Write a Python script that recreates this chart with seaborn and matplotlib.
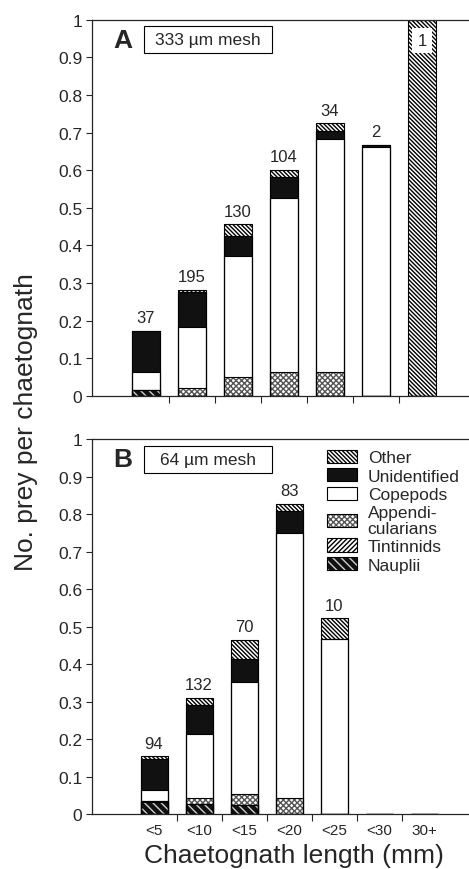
import numpy as np
import pandas as pd
import matplotlib
matplotlib.use("Agg")
import matplotlib.pyplot as plt
from matplotlib.patches import Patch, Rectangle
from matplotlib.ticker import FixedLocator
import seaborn as sns

sns.set_style("ticks")
plt.rcParams['font.family'] = ['Liberation Sans', 'DejaVu Sans']
plt.rcParams['hatch.linewidth'] = 1.0

# chaetognath length classes
lengths = ['<5', '<10', '<15', '<20', '<25', '<30', '30+']
prey_types = ['Nauplii', 'Tintinnids', 'Appendicularians', 'Copepods', 'Unidentified', 'Other']

# panel A, 333 um mesh (prey per chaetognath)
a_nauplii = [0.016, 0.0, 0.0, 0.0, 0.0, 0.0, 0.0]
a_tintinnids = [0.0, 0.0, 0.0, 0.0, 0.0, 0.0, 0.0]
a_appendic = [0.0, 0.020, 0.050, 0.064, 0.062, 0.0, 0.0]
a_copepods = [0.046, 0.162, 0.322, 0.463, 0.622, 0.662, 0.0]
a_unident = [0.111, 0.093, 0.052, 0.054, 0.021, 0.005, 0.0]
a_other = [0.0, 0.007, 0.032, 0.020, 0.020, 0.0, 1.0]
a_n = [37, 195, 130, 104, 34, 2, 1]

# panel B, 64 um mesh
b_nauplii = [0.032, 0.027, 0.024, 0.0, 0.0, 0.0, 0.0]
b_tintinnids = [0.004, 0.0, 0.0, 0.0, 0.0, 0.0, 0.0]
b_appendic = [0.0, 0.017, 0.031, 0.043, 0.0, 0.0, 0.0]
b_copepods = [0.028, 0.169, 0.298, 0.706, 0.467, 0.0, 0.0]
b_unident = [0.083, 0.077, 0.060, 0.060, 0.0, 0.0, 0.0]
b_other = [0.007, 0.021, 0.052, 0.019, 0.055, 0.0, 0.0]
b_n = [94, 132, 70, 83, 10, None, None]

# fill / hatch / hatch colour per prey type
styles = {
    'Nauplii': ('#111111', '\\' * 4, '#cfcfcf'),
    'Tintinnids': ('white', '/' * 7, 'black'),
    'Appendicularians': ('white', 'xxxxxx', '#555555'),
    'Copepods': ('white', '', 'black'),
    'Unidentified': ('#111111', '', 'black'),
    'Other': ('white', '\\' * 8, 'black'),
}


def stacked_panel(ax, layers, counts, xlim):
    df = pd.DataFrame(layers, index=prey_types, columns=lengths).T
    cum = df.cumsum(axis=1)
    # draw from top of stack downwards so lower layers overlay
    for prey in prey_types[::-1]:
        face, hatch, hcol = styles[prey]
        sns.barplot(x=lengths, y=cum[prey].values, order=lengths, color=face,
                    saturation=1, width=0.6, errorbar=None, linewidth=0, ax=ax)
        for p in ax.containers[-1]:
            p.set_facecolor(face)
            if hatch:
                p.set_hatch(hatch)
                p.set_edgecolor(hcol)
    # outlines of each segment
    for prey in prey_types:
        sns.barplot(x=lengths, y=cum[prey].values, order=lengths, fill=False,
                    color='black', width=0.6, errorbar=None, linewidth=0.8, ax=ax)
    totals = cum['Other'].values
    for i, n in enumerate(counts):
        if n is None:
            continue
        if totals[i] > 0.95:
            ax.text(i, 0.945, str(n), ha='center', va='center', fontsize=12,
                    bbox=dict(boxstyle='square,pad=0.3', facecolor='white', edgecolor='none'))
        else:
            ax.text(i, totals[i] + 0.015, str(n), ha='center', va='bottom', fontsize=12)

    ax.set_xlim(*xlim)
    ax.set_ylim(0, 1)
    ax.set_yticks(np.arange(0, 1.01, 0.1))
    ax.set_yticklabels(['0'] + ['%.1f' % v for v in np.arange(0.1, 0.95, 0.1)] + ['1'], fontsize=12.5)
    ax.xaxis.set_minor_locator(FixedLocator(np.arange(0.5, 6.0, 1.0)))
    ax.tick_params(axis='x', which='major', length=0, pad=6, labelsize=11)
    ax.tick_params(axis='x', which='minor', length=5, width=0.8, direction='out')
    ax.tick_params(axis='y', length=4, width=0.8, direction='out', pad=3)
    ax.set_xlabel('')
    ax.set_ylabel('')
    for s in ['left', 'bottom', 'top']:
        ax.spines[s].set_linewidth(0.9)
    ax.spines['right'].set_visible(False)


fig = plt.figure(figsize=(4.69, 8.70), dpi=100)
axA = fig.add_axes([0.196, 0.544, 0.804, 0.432])
axB = fig.add_axes([0.196, 0.063, 0.804, 0.431])

stacked_panel(axA, [a_nauplii, a_tintinnids, a_appendic, a_copepods, a_unident, a_other], a_n, (-1.17, 7.02))
stacked_panel(axB, [b_nauplii, b_tintinnids, b_appendic, b_copepods, b_unident, b_other], b_n, (-1.38, 7.0))
axA.set_xticklabels([])

# panel letters and mesh boxes
for ax, letter, mesh, yb in [(axA, 'A', '333 µm mesh', 0.911), (axB, 'B', '64 µm mesh', 0.909)]:
    ax.text(0.082, 0.947, letter, transform=ax.transAxes, ha='center', va='center',
            fontsize=19, fontweight='bold')
    ax.add_patch(Rectangle((0.138, yb), 0.34, 0.073, transform=ax.transAxes,
                           facecolor='white', edgecolor='black', linewidth=0.8, zorder=5))
    ax.text(0.308, yb + 0.0365, mesh, transform=ax.transAxes, ha='center', va='center',
            fontsize=12.5, zorder=6)

handles = []
for prey in prey_types[::-1]:
    face, hatch, hcol = styles[prey]
    handles.append(Patch(facecolor=face, hatch=hatch, edgecolor=hcol if hatch else 'black', linewidth=0.8))
labels = ['Other', 'Unidentified', 'Copepods', 'Appendi-\ncularians', 'Tintinnids', 'Nauplii']
leg = axB.legend(handles, labels, loc='upper left', bbox_to_anchor=(0.623, 0.972), frameon=False,
                 fontsize=12.5, handlelength=1.75, handleheight=0.8, handletextpad=0.6,
                 labelspacing=0.16, borderpad=0, borderaxespad=0)
for t in leg.get_texts():
    t.set_linespacing(1.05)
# black outline around legend swatches
for h in leg.legend_handles:
    h.set_edgecolor('black')
    h.set_linewidth(0.8)
for h, prey in zip(leg.legend_handles, prey_types[::-1]):
    face, hatch, hcol = styles[prey]
    if hatch:
        h._hatch_color = matplotlib.colors.to_rgba(hcol)

fig.text(0.055, 0.515, 'No. prey per chaetognath', rotation=90, ha='center', va='center', fontsize=19)
fig.text(0.627, 0.016, 'Chaetognath length (mm)', ha='center', va='center', fontsize=19)

fig.savefig('out.png', dpi=100)
